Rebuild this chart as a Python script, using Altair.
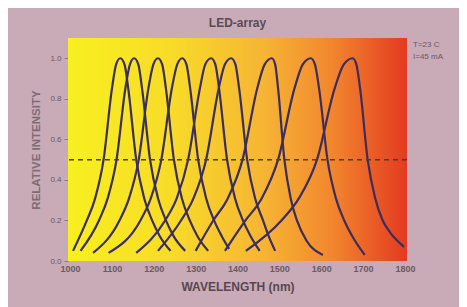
import altair as alt
import pandas as pd

# ---- data ----
c1_nm = [1007, 1040, 1060, 1080, 1100, 1110, 1120, 1130, 1139, 1158, 1177, 1196, 1215, 1240]
c1_iv = [0.05, 0.2, 0.31, 0.5, 0.85, 0.97, 1.0, 0.97, 0.85, 0.5, 0.31, 0.2, 0.12, 0.05]
c2_nm = [1025, 1069, 1090, 1111, 1132, 1143, 1153, 1163, 1172, 1191, 1210, 1229, 1248, 1275]
c2_iv = [0.05, 0.2, 0.31, 0.5, 0.85, 0.97, 1.0, 0.97, 0.85, 0.5, 0.31, 0.2, 0.12, 0.05]
c3_nm = [1055, 1118, 1141, 1164, 1187, 1199, 1210, 1220, 1229, 1248, 1267, 1286, 1305, 1330]
c3_iv = [0.04, 0.2, 0.31, 0.5, 0.85, 0.97, 1.0, 0.97, 0.85, 0.5, 0.31, 0.2, 0.12, 0.05]
c4_nm = [1092, 1168, 1193, 1218, 1243, 1256, 1268, 1278, 1287, 1306, 1325, 1344, 1363, 1380]
c4_iv = [0.04, 0.2, 0.31, 0.5, 0.85, 0.97, 1.0, 0.97, 0.85, 0.5, 0.31, 0.2, 0.12, 0.06]
c5_nm = [1158, 1227, 1255, 1282, 1310, 1323, 1337, 1347, 1356, 1375, 1394, 1413, 1432, 1453]
c5_iv = [0.04, 0.2, 0.31, 0.5, 0.85, 0.97, 1.0, 0.97, 0.85, 0.5, 0.31, 0.2, 0.12, 0.05]
c6_nm = [1210, 1265, 1295, 1325, 1355, 1370, 1385, 1395, 1404, 1423, 1442, 1461, 1475, 1490]
c6_iv = [0.05, 0.2, 0.31, 0.5, 0.85, 0.97, 1.0, 0.97, 0.85, 0.5, 0.31, 0.2, 0.12, 0.05]
c7_nm = [1300, 1342, 1377, 1412, 1447, 1465, 1482, 1490, 1497, 1512, 1527, 1542, 1565, 1604]
c7_iv = [0.05, 0.2, 0.31, 0.5, 0.85, 0.97, 1.0, 0.97, 0.85, 0.5, 0.31, 0.2, 0.1, 0.03]
c8_nm = [1370, 1419, 1458, 1497, 1536, 1556, 1575, 1585, 1595, 1615, 1635, 1655, 1675, 1704]
c8_iv = [0.05, 0.2, 0.31, 0.5, 0.85, 0.97, 1.0, 0.97, 0.85, 0.5, 0.31, 0.2, 0.12, 0.03]
c9_nm = [1420, 1505, 1547, 1590, 1632, 1654, 1675, 1684, 1693, 1711, 1729, 1747, 1765, 1798]
c9_iv = [0.05, 0.2, 0.31, 0.5, 0.85, 0.97, 1.0, 0.97, 0.85, 0.5, 0.31, 0.2, 0.14, 0.07]

x_ticks = [1000, 1100, 1200, 1300, 1400, 1500, 1600, 1700, 1800]
y_ticks = [0.0, 0.2, 0.4, 0.6, 0.8, 1.0]
half_level = [0.5]
note1 = "T=23 C"
note2 = "I=45 mA"

curves = [(c1_nm, c1_iv), (c2_nm, c2_iv), (c3_nm, c3_iv), (c4_nm, c4_iv), (c5_nm, c5_iv),
          (c6_nm, c6_iv), (c7_nm, c7_iv), (c8_nm, c8_iv), (c9_nm, c9_iv)]
rows = []
for k, (nm, iv) in enumerate(curves):
    for i, (a, b) in enumerate(zip(nm, iv)):
        rows.append({"led": f"LED{k+1}", "nm": a, "iv": b, "o": i})
df = pd.DataFrame(rows)

XD = [995, 1805]
YD = [0, 1.1]
W, H = 339, 223

xs = alt.Scale(domain=XD, nice=False, zero=False)
ys = alt.Scale(domain=YD, nice=False, zero=False)

bg = alt.Chart(pd.DataFrame({"a": [XD[0]], "b": [XD[1]], "c": [YD[0]], "d": [YD[1]]})).mark_rect(
    fill=alt.LinearGradient(
        gradient="linear", x1=0, x2=1, y1=0, y2=0,
        stops=[alt.GradientStop(color="#f7f01e", offset=0),
               alt.GradientStop(color="#f8dc28", offset=0.3),
               alt.GradientStop(color="#f6b434", offset=0.58),
               alt.GradientStop(color="#f2862e", offset=0.78),
               alt.GradientStop(color="#e33a20", offset=1)]),
).encode(
    x=alt.X("a:Q", scale=xs,
            axis=alt.Axis(values=x_ticks, title="WAVELENGTH (nm)", format="d")),
    x2="b:Q",
    y=alt.Y("c:Q", scale=ys,
            axis=alt.Axis(values=y_ticks, title="RELATIVE INTENSITY", format=".1f")),
    y2="d:Q",
)

lines = alt.Chart(df).mark_line(interpolate="monotone", color="#3b2d5c", strokeWidth=2.2).encode(
    x=alt.X("nm:Q", scale=xs),
    y=alt.Y("iv:Q", scale=ys),
    detail="led:N",
    order="o:Q",
)

dash = alt.Chart(pd.DataFrame({"y": half_level})).mark_rule(
    color="#4d3e22", strokeWidth=1.5, strokeDash=[5, 4]
).encode(y=alt.Y("y:Q", scale=ys))

t1 = alt.Chart(pd.DataFrame({"t": [note1]})).mark_text(
    align="left", baseline="middle", fontSize=8, color="#6a5a62", font="Liberation Sans"
).encode(text="t:N", x=alt.value(W + 6), y=alt.value(7))
t2 = alt.Chart(pd.DataFrame({"t": [note2]})).mark_text(
    align="left", baseline="middle", fontSize=8, color="#6a5a62", font="Liberation Sans"
).encode(text="t:N", x=alt.value(W + 6), y=alt.value(19))

chart = alt.layer(bg, lines, dash, t1, t2).properties(
    width=W, height=H,
    title=alt.TitleParams("LED-array", fontSize=12, fontWeight="bold", color="#5a4a52",
                          font="Liberation Sans", offset=8),
    autosize=alt.AutoSizeParams(type="none"),
    padding={"left": 60, "top": 30, "right": 52, "bottom": 46},
).configure(
    background="#c9aab7",
).configure_view(stroke=None).configure_axis(
    grid=False, domain=False, labelFont="Liberation Sans", titleFont="Liberation Sans",
    labelColor="#6a5a62", titleColor="#6a5a62", tickColor="#8a7a82",
).configure_axisX(
    ticks=False, labelFontSize=9, labelFontWeight="bold", labelPadding=3,
    titleFontSize=12, titleFontWeight="bold", titlePadding=8, titleColor="#574750",
).configure_axisY(
    tickSize=4, labelFontSize=8, labelPadding=3, titleFontSize=11.5,
    titleFontWeight="bold", titlePadding=8, titleColor="#7d6d75",
)

chart.save("out.html", embed_options={"renderer": "svg", "actions": False})
